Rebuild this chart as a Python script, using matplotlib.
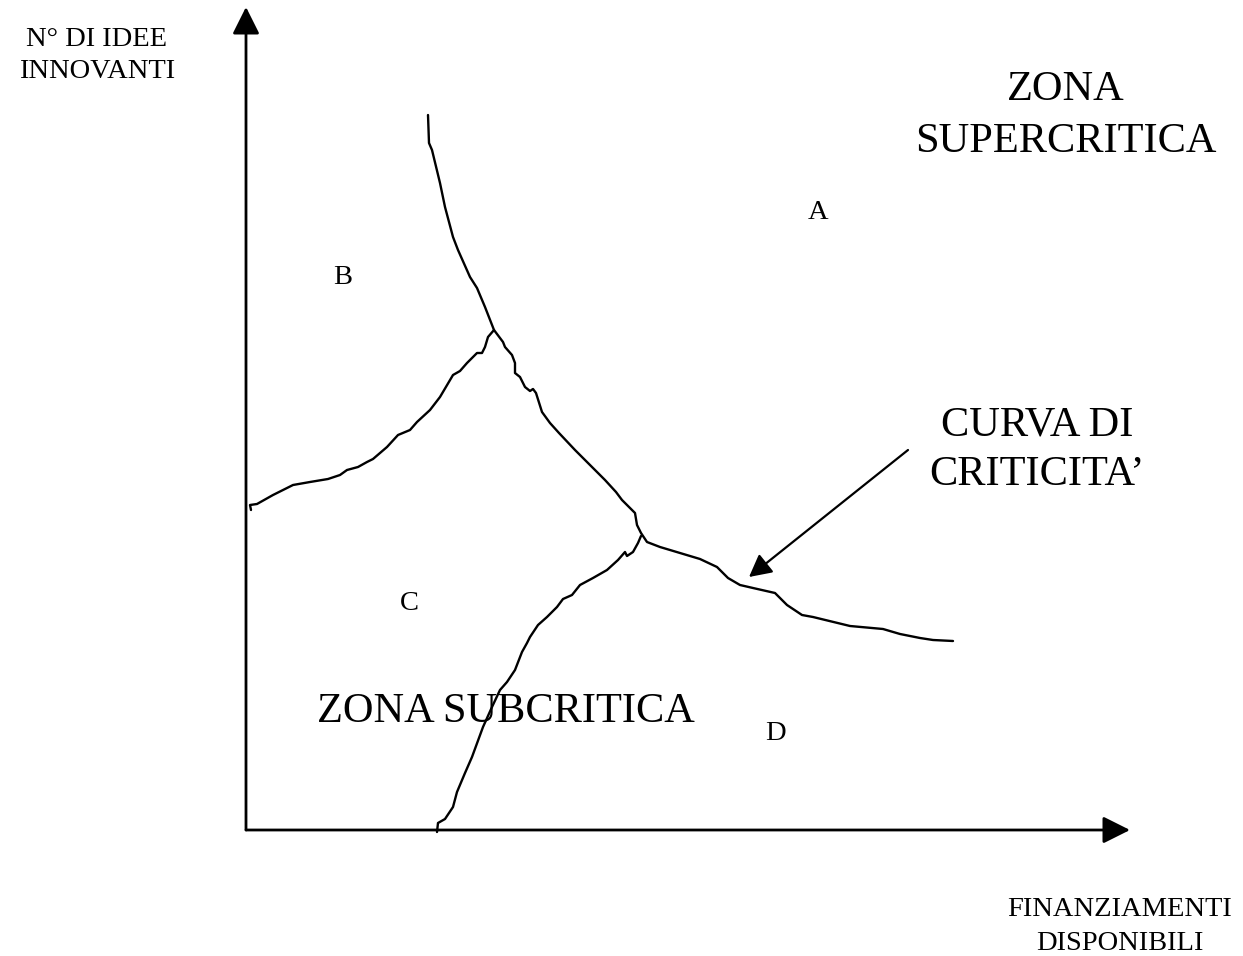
import matplotlib
matplotlib.use('Agg')
import matplotlib.pyplot as plt

plt.rcParams['font.family'] = ['Liberation Serif', 'DejaVu Serif']

# Main "curva di criticità" (from top-left down to the right)
main_x = [182, 183, 186, 194, 199, 207, 212, 224, 231, 239, 248, 257, 259, 266, 269, 269, 274, 279,
          284, 287, 290, 296, 304, 313, 329, 344, 359, 370, 376, 389, 391, 395, 401, 414, 434, 454,
          471, 482, 494, 507, 529, 541, 556, 567, 604, 637, 654, 674, 687, 707]
main_y = [715, 687, 680, 647, 623, 593, 580, 553, 542, 523, 500, 488, 483, 475, 467, 457, 453, 443,
          439, 441, 437, 418, 407, 397, 380, 365, 350, 338, 330, 317, 305, 297, 288, 283, 277, 271,
          263, 252, 245, 242, 237, 225, 215, 213, 204, 201, 196, 192, 190, 189]

# Boundary between B and C
bc_x = [5, 4, 11, 27, 47, 64, 82, 94, 101, 112, 121, 127, 141, 152, 164, 171, 184, 194, 207, 214,
        221, 224, 231, 236, 239, 242, 248]
bc_y = [320, 325, 326, 335, 345, 348, 351, 355, 360, 363, 368, 371, 383, 395, 400, 408, 420, 433,
        455, 459, 467, 470, 477, 477, 483, 493, 500]

# Boundary between C and D
cd_x = [191, 192, 199, 207, 211, 219, 226, 237, 246, 254, 261, 269, 276, 281, 284, 292, 301, 311,
        317, 326, 334, 347, 361, 372, 379, 381, 387, 392, 395]
cd_y = [-2, 7, 11, 23, 38, 57, 73, 103, 123, 140, 148, 160, 178, 187, 193, 205, 213, 223, 231, 235,
        245, 252, 260, 270, 278, 274, 278, 287, 294]

# Axis extents
x_axis_end = 884
y_axis_end = 823

# Pointer arrow (tail -> tip)
pointer_tail = (662, 380)
pointer_tip = (503, 253)

# Labels
y_label_lines = ["N° DI IDEE", "INNOVANTI"]
x_label_lines = ["FINANZIAMENTI", "DISPONIBILI"]
super_lines = ["ZONA", "SUPERCRITICA"]
curva_lines = ["CURVA DI", "CRITICITA’"]
sub_label = "ZONA SUBCRITICA"
region_letters = ["A", "B", "C", "D"]
region_pos = [(572, 618), (97, 553), (163, 227), (529, 97)]

fig = plt.figure(figsize=(12.43, 9.56), dpi=100)
ax = fig.add_axes([0, 0, 1, 1])
ax.set_xlim(-246, 997)
ax.set_ylim(-126, 830)
ax.axis('off')

axis_style = '-|>,head_length=0.8,head_width=0.4'
ax.annotate('', xy=(0, y_axis_end), xytext=(0, 0),
            arrowprops=dict(arrowstyle=axis_style, mutation_scale=20.7, lw=2,
                            color='black', shrinkA=0, shrinkB=0))
ax.annotate('', xy=(x_axis_end, 0), xytext=(0, 0),
            arrowprops=dict(arrowstyle=axis_style, mutation_scale=20.7, lw=2,
                            color='black', shrinkA=0, shrinkB=0))

for xs, ys in [(main_x, main_y), (bc_x, bc_y), (cd_x, cd_y)]:
    ax.plot(xs, ys, color='black', lw=1.7, solid_joinstyle='round', solid_capstyle='round')

ax.annotate('', xy=pointer_tip, xytext=pointer_tail,
            arrowprops=dict(arrowstyle='-|>,head_length=0.8,head_width=0.42',
                            mutation_scale=17, lw=1.6, color='black',
                            shrinkA=0, shrinkB=0))

small = 20.5
big = 30.5

for line, yy in zip(y_label_lines, [791, 759]):
    ax.text(-149, yy, line, fontsize=small, ha='center', va='center')
for line, yy in zip(x_label_lines, [-79, -114]):
    ax.text(874, yy, line, fontsize=small, ha='center', va='center')
for line, yy in zip(super_lines, [740, 688]):
    ax.text(820, yy, line, fontsize=big, ha='center', va='center')
for line, yy in zip(curva_lines, [405, 355]):
    ax.text(791, yy, line, fontsize=big, ha='center', va='center')
ax.text(260, 118, sub_label, fontsize=big, ha='center', va='center')
for letter, (lx, ly) in zip(region_letters, region_pos):
    ax.text(lx, ly, letter, fontsize=small, ha='center', va='center')

fig.savefig('out.png', dpi=100, facecolor='white')
